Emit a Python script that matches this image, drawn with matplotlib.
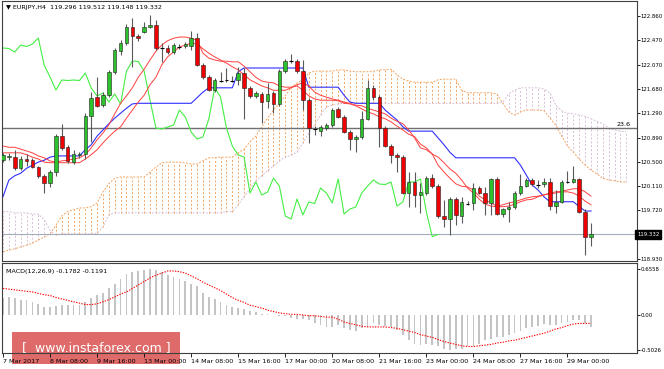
import numpy as np
import matplotlib.pyplot as plt
from matplotlib.patches import Rectangle

# EURJPY H4 candles, 7 Mar - 29 Mar 2017
opens = [120.534, 120.582, 120.582, 120.405, 120.550, 120.534, 120.421, 120.276, 120.163, 120.340,
         120.922, 120.744, 120.502, 120.615, 120.631, 121.245, 121.551, 121.422, 121.584, 121.955,
         122.294, 122.424, 122.682, 122.537, 122.601, 122.682, 122.714, 122.343, 122.343, 122.278,
         122.375, 122.375, 122.375, 122.504, 122.068, 121.874, 121.664, 121.826, 121.818, 121.826,
         121.826, 121.939, 121.697, 121.568, 121.600, 121.487, 121.616, 121.438, 121.971, 122.133,
         122.133, 121.971, 121.503, 121.043, 121.002, 121.051, 121.099, 121.358, 121.228, 120.986,
         120.873, 120.905, 121.196, 121.697, 121.551, 121.051, 120.760, 120.615, 120.582, 120.001,
         120.179, 119.969, 120.001, 120.243, 120.114, 119.630, 119.581, 119.904, 119.630, 119.840,
         119.840, 120.082, 120.001, 119.840, 120.227, 119.662, 119.743, 119.775, 120.001, 120.114,
         120.211, 120.146, 120.146, 120.179, 119.791, 119.856, 120.171, 120.179, 120.227, 119.694,
         119.296]
highs = [120.647, 120.647, 120.695, 120.599, 120.631, 120.566, 120.437, 120.308, 120.372, 120.954,
         121.115, 120.776, 120.695, 120.663, 121.293, 121.632, 121.874, 121.632, 121.987, 122.343,
         122.472, 122.730, 122.827, 122.569, 122.763, 122.876, 122.795, 122.424, 122.391, 122.424,
         122.407, 122.440, 122.617, 122.585, 122.101, 121.907, 121.858, 121.955, 122.020, 121.891,
         122.036, 122.020, 121.729, 121.648, 121.632, 121.778, 121.648, 122.004, 122.165, 122.246,
         122.165, 122.149, 121.535, 121.083, 121.099, 121.132, 121.374, 121.390, 121.261, 121.018,
         120.938, 121.325, 121.826, 121.745, 121.584, 121.083, 120.792, 120.647, 120.615, 120.340,
         120.340, 120.163, 120.276, 120.308, 120.146, 119.888, 119.936, 119.936, 119.936, 119.872,
         120.163, 120.114, 120.098, 120.243, 120.259, 119.759, 119.856, 120.033, 120.308, 120.243,
         120.243, 120.211, 120.243, 120.243, 120.049, 120.211, 120.356, 120.437, 120.243, 119.743,
         119.512]
lows = [120.502, 120.534, 120.372, 120.372, 120.437, 120.405, 120.243, 120.001, 120.098, 120.276,
        120.695, 120.486, 120.469, 120.566, 120.550, 120.825, 121.390, 121.390, 121.551, 121.923,
        122.230, 122.391, 122.036, 122.456, 122.585, 122.666, 122.310, 122.117, 122.246, 122.246,
        122.327, 122.343, 122.310, 122.052, 121.842, 121.648, 121.632, 121.794, 121.794, 121.794,
        121.745, 121.196, 121.535, 121.535, 121.132, 121.374, 121.293, 121.406, 121.939, 122.101,
        121.939, 121.341, 120.809, 120.938, 120.922, 121.018, 121.067, 121.212, 120.970, 120.695,
        120.663, 120.873, 121.180, 121.503, 120.744, 120.744, 120.486, 120.340, 119.985, 119.775,
        119.775, 119.678, 119.969, 120.082, 119.597, 119.452, 119.323, 119.484, 119.517, 119.807,
        119.726, 119.985, 119.646, 119.646, 119.646, 119.613, 119.533, 119.743, 119.969, 120.098,
        120.114, 120.082, 120.098, 119.726, 119.678, 119.840, 120.163, 120.163, 119.678, 119.000,
        119.148]
closes = [120.615, 120.599, 120.405, 120.550, 120.518, 120.421, 120.276, 120.163, 120.340, 120.922,
          120.728, 120.518, 120.631, 120.631, 121.245, 121.535, 121.406, 121.584, 121.955, 122.310,
          122.424, 122.682, 122.537, 122.504, 122.682, 122.714, 122.343, 122.335, 122.278, 122.391,
          122.367, 122.407, 122.504, 122.068, 121.874, 121.664, 121.826, 121.818, 121.826, 121.818,
          121.939, 121.697, 121.568, 121.616, 121.471, 121.600, 121.438, 121.971, 122.133, 122.125,
          121.971, 121.503, 121.051, 121.035, 121.067, 121.099, 121.341, 121.228, 120.986, 120.873,
          120.905, 121.196, 121.697, 121.551, 121.051, 120.760, 120.615, 120.582, 120.001, 120.179,
          119.969, 120.017, 120.243, 120.114, 119.630, 119.581, 119.904, 119.646, 119.856, 119.831,
          120.082, 120.001, 119.840, 120.227, 119.662, 119.743, 119.775, 120.001, 120.114, 120.211,
          120.146, 120.138, 120.179, 119.791, 119.856, 120.179, 120.179, 120.227, 119.694, 119.296,
          119.332]

# indicator lines
kijun = [119.94, 120.21, 120.28, 120.32, 120.40, 120.45, 120.50, 120.53, 120.58, 120.60,
         120.60, 120.60, 120.60, 120.60, 120.70, 120.78, 120.92, 121.02, 121.12, 121.21,
         121.29, 121.37, 121.44, 121.45, 121.45, 121.45, 121.45, 121.45, 121.45, 121.45,
         121.45, 121.45, 121.45, 121.54, 121.63, 121.70, 121.70, 121.70, 121.70, 121.70,
         121.96, 122.02, 122.02, 122.02, 122.02, 122.02, 122.02, 122.02, 122.02, 122.02,
         122.02, 122.02, 121.71, 121.71, 121.71, 121.71, 121.71, 121.71, 121.58, 121.47,
         121.45, 121.45, 121.45, 121.45, 121.45, 121.34, 121.26, 121.18, 121.07, 121.00,
         121.00, 121.00, 121.00, 121.00, 120.89, 120.78, 120.66, 120.57, 120.57, 120.57,
         120.57, 120.57, 120.57, 120.57, 120.57, 120.57, 120.57, 120.57, 120.45, 120.29,
         120.13, 120.05, 119.94, 119.86, 119.86, 119.86, 119.86, 119.86, 119.78, 119.71,
         119.71]
ma_fast = [120.76, 120.74, 120.74, 120.71, 120.68, 120.65, 120.60, 120.57, 120.52, 120.50,
           120.52, 120.53, 120.55, 120.57, 120.62, 120.73, 120.86, 120.97, 121.10, 121.28,
           121.45, 121.57, 121.70, 121.87, 122.00, 122.15, 122.29, 122.39, 122.46, 122.50,
           122.52, 122.52, 122.50, 122.47, 122.26, 122.18, 122.15, 122.13, 122.13, 122.12,
           122.12, 122.05, 121.96, 121.87, 121.81, 121.79, 121.78, 121.73, 121.71, 121.71,
           121.73, 121.66, 121.57, 121.52, 121.50, 121.50, 121.50, 121.49, 121.45, 121.44,
           121.41, 121.36, 121.31, 121.28, 121.23, 121.20, 121.15, 121.08, 121.02, 120.95,
           120.91, 120.79, 120.73, 120.63, 120.45, 120.34, 120.24, 120.15, 120.11, 120.10,
           120.05, 119.95, 119.89, 119.84, 119.79, 119.81, 119.84, 119.86, 119.89, 119.92,
           119.94, 119.95, 119.97, 120.00, 120.02, 120.03, 120.05, 120.07, 120.07, 120.02,
           119.95]
ma_slow = [120.65, 120.65, 120.65, 120.65, 120.62, 120.58, 120.55, 120.50, 120.49, 120.49,
           120.49, 120.49, 120.49, 120.49, 120.55, 120.62, 120.70, 120.81, 120.91, 121.00,
           121.07, 121.21, 121.34, 121.47, 121.58, 121.75, 121.87, 122.07, 122.20, 122.28,
           122.36, 122.39, 122.42, 122.41, 122.33, 122.26, 122.20, 122.15, 122.10, 122.04,
           121.99, 121.91, 121.83, 121.78, 121.73, 121.70, 121.66, 121.66, 121.66, 121.70,
           121.75, 121.78, 121.73, 121.63, 121.58, 121.55, 121.52, 121.50, 121.47, 121.45,
           121.42, 121.41, 121.37, 121.34, 121.31, 121.28, 121.21, 121.16, 121.12, 121.02,
           120.89, 120.73, 120.70, 120.63, 120.58, 120.49, 120.39, 120.32, 120.21, 120.08,
           120.00, 119.90, 119.82, 119.79, 119.78, 119.78, 119.79, 119.82, 119.86, 119.89,
           119.90, 119.94, 119.97, 119.99, 120.00, 120.02, 120.02, 120.00, 119.95, 119.87,
           119.81]
senkou_a = [119.05, 119.08, 119.10, 119.13, 119.16, 119.19, 119.24, 119.29, 119.34, 119.48,
            119.63, 119.70, 119.73, 119.76, 119.76, 119.78, 119.84, 120.02, 120.15, 120.24,
            120.26, 120.26, 120.26, 120.26, 120.26, 120.34, 120.42, 120.49, 120.50, 120.50,
            120.50, 120.49, 120.47, 120.47, 120.52, 120.57, 120.57, 120.58, 120.58, 120.58,
            120.65, 120.71, 120.83, 120.92, 121.07, 121.21, 121.34, 121.45, 121.57, 121.70,
            121.78, 121.83, 121.94, 121.97, 121.97, 121.97, 121.97, 121.99, 121.99, 121.97,
            121.96, 121.96, 121.96, 121.97, 121.99, 121.99, 122.00, 121.91, 121.84, 121.81,
            121.79, 121.79, 121.79, 121.79, 121.83, 121.84, 121.84, 121.84, 121.66, 121.62,
            121.62, 121.62, 121.62, 121.62, 121.60, 121.45, 121.31, 121.26, 121.31, 121.34,
            121.34, 121.34, 121.33, 121.21, 121.10, 120.92, 120.76, 120.66, 120.55, 120.45,
            120.37, 120.31, 120.24, 120.21, 120.20, 120.18, 120.18]
senkou_b = [119.70, 119.70, 119.68, 119.68, 119.68, 119.66, 119.66, 119.57, 119.40, 119.32,
            119.34, 119.34, 119.34, 119.34, 119.34, 119.34, 119.35, 119.45, 119.65, 119.68,
            119.68, 119.68, 119.68, 119.68, 119.68, 119.68, 119.68, 119.68, 119.68, 119.68,
            119.68, 119.68, 119.68, 119.68, 119.68, 119.68, 119.68, 119.68, 119.70, 119.70,
            119.81, 119.94, 120.07, 120.20, 120.28, 120.36, 120.44, 120.52, 120.58, 120.61,
            120.66, 120.81, 120.97, 121.10, 121.26, 121.39, 121.42, 121.44, 121.45, 121.45,
            121.45, 121.45, 121.45, 121.45, 121.45, 121.45, 121.45, 121.45, 121.45, 121.45,
            121.45, 121.45, 121.45, 121.45, 121.45, 121.45, 121.45, 121.45, 121.45, 121.45,
            121.45, 121.45, 121.45, 121.45, 121.45, 121.47, 121.60, 121.66, 121.70, 121.70,
            121.70, 121.70, 121.68, 121.62, 121.42, 121.33, 121.29, 121.28, 121.26, 121.24,
            121.20, 121.16, 121.12, 121.05, 121.02, 121.00, 120.99]

macd_hist = [0.25, 0.26, 0.24, 0.22, 0.21, 0.19, 0.16, 0.12, 0.11, 0.13,
             0.14, 0.14, 0.14, 0.15, 0.19, 0.25, 0.28, 0.32, 0.38, 0.45,
             0.52, 0.58, 0.62, 0.63, 0.65, 0.6558, 0.64, 0.61, 0.57, 0.55,
             0.52, 0.49, 0.45, 0.41, 0.32, 0.26, 0.23, 0.19, 0.15, 0.12,
             0.10, 0.09, 0.06, 0.04, 0.02, 0.01, 0.005, -0.01, -0.02, -0.04,
             -0.05, -0.06, -0.07, -0.12, -0.14, -0.17, -0.17, -0.14, -0.19, -0.22,
             -0.23, -0.19, -0.17, -0.12, -0.14, -0.15, -0.17, -0.22, -0.29, -0.36,
             -0.41, -0.43, -0.42, -0.43, -0.45, -0.48, -0.5026, -0.49, -0.48, -0.45,
             -0.44, -0.41, -0.36, -0.34, -0.31, -0.31, -0.29, -0.26, -0.23, -0.19,
             -0.17, -0.15, -0.13, -0.14, -0.14, -0.12, -0.10, -0.07, -0.07, -0.12,
             -0.1782]
macd_signal = [0.38, 0.37, 0.36, 0.35, 0.34, 0.33, 0.31, 0.29, 0.28, 0.25,
               0.23, 0.21, 0.19, 0.17, 0.15, 0.15, 0.16, 0.19, 0.22, 0.26,
               0.30, 0.33, 0.38, 0.43, 0.48, 0.53, 0.57, 0.60, 0.63, 0.63,
               0.62, 0.60, 0.56, 0.52, 0.47, 0.43, 0.39, 0.35, 0.30, 0.25,
               0.21, 0.18, 0.14, 0.12, 0.10, 0.07, 0.05, 0.03, 0.02, 0.01,
               0.01, 0.00, -0.01, -0.01, -0.02, -0.03, -0.03, -0.06, -0.10, -0.12,
               -0.14, -0.16, -0.17, -0.17, -0.17, -0.17, -0.18, -0.19, -0.21, -0.23,
               -0.25, -0.28, -0.30, -0.32, -0.35, -0.38, -0.40, -0.42, -0.44, -0.45,
               -0.45, -0.44, -0.43, -0.42, -0.40, -0.39, -0.37, -0.36, -0.34, -0.32,
               -0.30, -0.28, -0.26, -0.23, -0.20, -0.18, -0.15, -0.13, -0.12, -0.12,
               -0.1191]

price_ticks = [122.860, 122.470, 122.070, 121.680, 121.290, 120.890, 120.500, 120.110, 119.720, 118.930]
macd_ticks = [0.6558, 0.0, -0.5026]
macd_tick_labels = ['0.6558', '0.00', '-0.5026']
time_labels = ['7 Mar 2017', '8 Mar 08:00', '9 Mar 16:00', '13 Mar 00:00', '14 Mar 08:00',
               '15 Mar 16:00', '17 Mar 00:00', '20 Mar 08:00', '21 Mar 16:00', '23 Mar 00:00',
               '24 Mar 08:00', '27 Mar 16:00', '29 Mar 00:00']
fibo_level = 121.046
last_price = 119.332

plt.rcParams['font.family'] = ['DejaVu Sans']
FS = 4.6
FS_Y = 3.9
W, H = 664, 369

fig = plt.figure(figsize=(W / 100, H / 100), dpi=100)
fig.patch.set_facecolor('white')
ax = fig.add_axes([2 / W, (H - 261) / H, 635 / W, 260 / H])
ax2 = fig.add_axes([2 / W, (H - 353) / H, 635 / W, 90 / H], sharex=ax)
ax2.set_facecolor('none')

n = len(closes)
idx = np.arange(n)
o = np.array(opens)
h = np.array(highs)
l = np.array(lows)
c = np.array(closes)

# ichimoku cloud (dotted vertical hatching)
cidx = np.arange(len(senkou_a))
sa = np.array(senkou_a)
sb = np.array(senkou_b)
orange, thistle = '#f4a460', '#d8bfd8'
for i in cidx:
    col = orange if sa[i] >= sb[i] else thistle
    ax.vlines(i, min(sa[i], sb[i]), max(sa[i], sb[i]), colors=col, linewidth=0.7,
              linestyles=(0, (2, 2)), zorder=1)
ax.plot(cidx, sa, color=orange, lw=0.7, ls=(0, (2, 1.5)), zorder=1)
ax.plot(cidx, sb, color=thistle, lw=0.7, ls=(0, (2, 1.5)), zorder=1)

# horizontal levels
ax.axhline(fibo_level, color='#707070', lw=1.0, zorder=2)
ax.text(106.8, fibo_level + 0.02, '23.6', fontsize=FS, ha='right', va='bottom', zorder=5)
ax.axhline(last_price, color='#a3adb9', lw=0.8, zorder=2)

# lines
ax.plot(idx[:n - 26], c[26:], color='#44ee44', lw=0.8, zorder=2)
ax.plot(idx, kijun, color='#3030ff', lw=0.8, zorder=2)
ax.plot(idx, ma_fast, color='#ff4040', lw=0.7, zorder=2)
ax.plot(idx, ma_slow, color='#ff4040', lw=0.7, zorder=2)

# candles
ax.vlines(idx, l, h, colors='#5a5a5a', linewidth=0.8, zorder=3)
for i in idx:
    if abs(c[i] - o[i]) < 0.012:
        ax.hlines(c[i], i - 0.33, i + 0.33, colors='black', linewidth=0.8, zorder=4)
        continue
    up = c[i] > o[i]
    ax.add_patch(Rectangle((i - 0.3, min(o[i], c[i])), 0.6, abs(c[i] - o[i]),
                           facecolor='#2ec12e' if up else '#f00000',
                           edgecolor='#202020', linewidth=0.4, zorder=4))

ax.set_xlim(-0.17, 107.82)
ax.set_ylim(118.903, 123.102)
ax.yaxis.tick_right()
ax.set_yticks(price_ticks)
ax.set_yticklabels([f'{v:.3f}' for v in price_ticks])
ax.tick_params(axis='y', direction='out', length=2, width=0.6, pad=0.8, labelsize=FS_Y)
ax.tick_params(axis='x', length=0, labelbottom=False)

ax.text(1.0, last_price, f'{last_price:.3f}', transform=ax.get_yaxis_transform(),
        fontsize=FS_Y, color='white', ha='left', va='center', zorder=6, clip_on=False,
        bbox=dict(boxstyle='square,pad=0.3', facecolor='black', edgecolor='black'))

# MACD panel
ax2.bar(idx, macd_hist, width=0.3, color='#c4c4c4', zorder=2)
ax2.plot(idx, macd_signal, color='red', lw=0.8, ls=(0, (1.2, 1.2)), zorder=3)
ax2.set_ylim(-0.543, 0.744)
ax2.yaxis.tick_right()
ax2.set_yticks(macd_ticks)
ax2.set_yticklabels(macd_tick_labels)
ax2.tick_params(axis='y', direction='out', length=2, width=0.6, pad=0.8, labelsize=FS_Y)
ax2.set_xticks(np.arange(0, n, 8))
ax2.set_xticklabels(time_labels, ha='left')
ax2.tick_params(axis='x', direction='out', length=3, width=0.6, pad=1.5, labelsize=FS)
ax2.text(0.006, 0.93, 'MACD(12,26,9) -0.1782 -0.1191', transform=ax2.transAxes,
         fontsize=FS, ha='left', va='top')

for a in (ax, ax2):
    for s in a.spines.values():
        s.set_color('#404040')
        s.set_linewidth(0.8)

fig.text(6 / W, 1 - 8 / H, '\u25bc EURJPY,H4  119.296 119.512 119.148 119.332',
         fontsize=FS, ha='left', va='center')

# watermark
fig.patches.append(Rectangle((12 / W, (H - 364) / H), 168 / W, 32 / H,
                             transform=fig.transFigure, facecolor='#dc5a5a',
                             edgecolor='none', alpha=0.9, zorder=-1))
fig.text(96 / W, (H - 348) / H, '[  www.instaforex.com ]', fontsize=9, color='white',
         ha='center', va='center', zorder=-1)

fig.savefig('out.png', dpi=100)
